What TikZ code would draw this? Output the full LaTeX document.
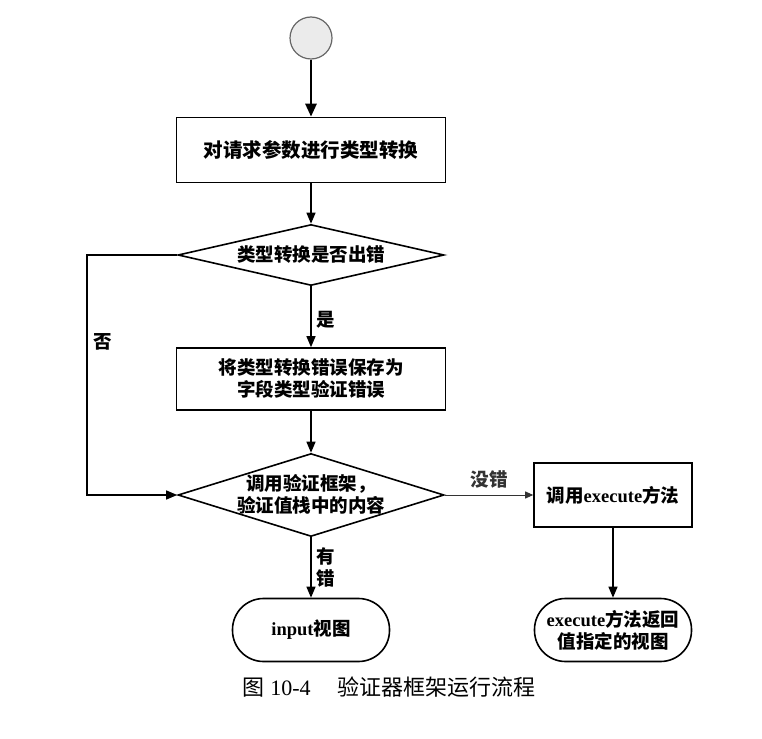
\documentclass[tikz,border=0pt]{standalone}
\usepackage{fontspec}
\setmainfont{Liberation Serif}
\newfontfamily\cjk{Noto Sans CJK SC}
\usetikzlibrary{shapes.geometric,arrows.meta}
\newcommand\zh[1]{{\cjk #1}}
\begin{document}
\begin{tikzpicture}[x=1pt,y=-1pt,
  every node/.style={font=\bfseries\fontsize{18.5}{22}\selectfont, align=center},
  procbox/.style={draw, line width=1.6pt, inner sep=0pt},
  decbox/.style={draw, diamond, line width=1.6pt, inner sep=0pt},
  termbox/.style={draw, line width=1.6pt, rounded corners=31pt, inner sep=0pt, minimum width=157pt, minimum height=63pt},
  flow/.style={line width=1.3pt, -{Triangle[length=11pt,width=9pt]}},
  lbl/.style={inner sep=0pt}]
\useasboundingbox (0,0) rectangle (762,738);
\node[circle, draw=black!60, fill=black!8, line width=1.2pt, minimum size=42pt, inner sep=0pt] (start) at (311,38) {};
\node[procbox, minimum width=269pt, minimum height=65pt, font=\bfseries\fontsize{19.5}{24}\selectfont] (b1) at (311,150) {\zh{对请求参数进行类型转换}};
\node[decbox, minimum width=266pt, minimum height=61pt] (d1) at (311,255) {};
\node (d1t) at (311,255) {\zh{类型转换是否出错}};
\node[procbox, minimum width=269pt, minimum height=62pt] (b2) at (311,379) {\zh{将类型转换错误保存为}\\\zh{字段类型验证错误}};
\node[decbox, minimum width=266pt, minimum height=83pt] (d2) at (311,495) {};
\node (d2t) at (311,494) {\zh{调用验证框架，}\\\zh{验证值栈中的内容}};
\node[procbox, minimum width=158pt, minimum height=64pt] (b3) at (613,495) {\zh{调用}execute\zh{方法}};
\node[termbox] (t1) at (311,630) {input\zh{视图}};
\node[termbox] (t2) at (613,630) {execute\zh{方法返回}\\\zh{值指定的视图}};
\coordinate (c1) at (87,255);
\coordinate (c2) at (87,495);
\draw[line width=2.6pt, -{Triangle[length=13pt,width=11pt]}] (start) -- (b1);
\draw[flow] (b1) -- (d1);
\draw[flow] (d1) -- node[lbl, anchor=west, xshift=5pt, pos=0.55] (ls) {\zh{是}} (b2);
\draw[flow] (b2) -- (d2);
\draw[line width=1.3pt, -{Triangle[length=11pt,width=9pt]}] (d1.west) -- (c1) -- node[lbl, anchor=west, xshift=6pt, pos=0.36] (lf) {\zh{否}} (c2) -- (d2.west);
\draw[line width=0.9pt, black!80, -{Triangle[length=8pt,width=7pt]}] (d2.east) -- node[lbl, above=6pt] (lm) {\zh{没错}} (b3.west);
\draw[flow] (d2) -- node[lbl, anchor=west, xshift=5pt, pos=0.5] (ly) {\zh{有}\\\zh{错}} (t1);
\draw[flow] (b3) -- (t2);
\node[font=\fontsize{22}{24}\selectfont] (cap) at (389,687) {\zh{图} 10-4\hspace{1.2em}\zh{验证器框架运行流程}};
\end{tikzpicture}
\end{document}
